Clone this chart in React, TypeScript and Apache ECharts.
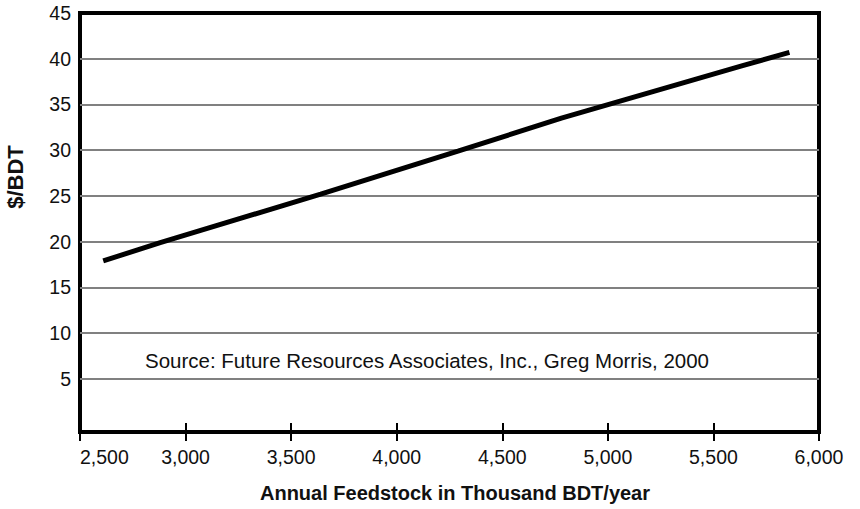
import React, { useEffect, useRef } from "react";
import * as echarts from "echarts";

// Delivered biomass cost versus annual feedstock demand
const feedstock = [2610, 2880, 3640, 4290, 4780, 5630, 5860];
const costPerBdt = [17.9, 19.9, 25.2, 29.9, 33.5, 39.2, 40.7];

// Axis settings
const xMin = 2500;
const xMax = 6000;
const xStep = 500;
const yMin = -0.8;
const yMax = 45;
const yTickLabels = [5, 10, 15, 20, 25, 30, 35, 40, 45];
const gridValues = [5, 10, 15, 20, 25, 30, 35, 40];

const xTitle = "Annual Feedstock in Thousand BDT/year";
const yTitle = "$/BDT";
const sourceNote = "Source: Future Resources Associates, Inc., Greg Morris, 2000";

const FONT = "'Liberation Sans', Arial, Helvetica, sans-serif";

export default function App() {
  const ref = useRef<HTMLDivElement>(null);

  useEffect(() => {
    if (!ref.current) return;
    const chart = echarts.init(ref.current, undefined, { renderer: "svg" });

    const fmt = (v: number) => v.toLocaleString("en-US");

    chart.setOption({
      animation: false,
      backgroundColor: "#ffffff",
      textStyle: { fontFamily: FONT },
      grid: {
        left: 80,
        right: 41,
        top: 13,
        bottom: 77,
        show: true,
        borderColor: "#000",
        borderWidth: 4,
        backgroundColor: "transparent",
      },
      xAxis: [
        {
          type: "value",
          min: xMin,
          max: xMax,
          interval: xStep,
          position: "bottom",
          axisLine: { show: true, onZero: false, lineStyle: { color: "#000", width: 4 } },
          axisTick: { show: true, length: 9, lineStyle: { color: "#000", width: 2 } },
          axisLabel: {
            color: "#111",
            fontSize: 19.5,
            fontFamily: FONT,
            margin: 15,
            formatter: fmt,
            alignMinLabel: "left",
          },
          splitLine: { show: false },
        },
        {
          // inner half of the crossing tick marks
          type: "value",
          min: xMin,
          max: xMax,
          interval: xStep,
          position: "bottom",
          axisLine: { show: false, onZero: false },
          axisTick: { show: true, inside: true, length: 9, lineStyle: { color: "#000", width: 2 } },
          axisLabel: { show: false },
          splitLine: { show: false },
        },
      ],
      yAxis: {
        type: "value",
        min: yMin,
        max: yMax,
        axisLine: { show: true, lineStyle: { color: "#000", width: 4 } },
        axisTick: { show: false, customValues: yTickLabels },
        axisLabel: {
          color: "#111",
          fontSize: 19.5,
          fontFamily: FONT,
          margin: 9,
          customValues: yTickLabels,
        },
        splitLine: { show: false },
      },
      series: [
        {
          // horizontal gridlines
          type: "line",
          data: [],
          z: 1,
          silent: true,
          markLine: {
            silent: true,
            symbol: "none",
            label: { show: false },
            lineStyle: { color: "#808080", width: 2, type: "solid" },
            data: gridValues.map((v) => ({ yAxis: v })),
          },
        },
        {
          type: "line",
          z: 5,
          data: feedstock.map((x, i) => [x, costPerBdt[i]]),
          showSymbol: false,
          symbol: "none",
          lineStyle: { color: "#000", width: 5, cap: "butt" },
        },
      ],
      graphic: [
        {
          type: "text",
          x: 145,
          y: 360,
          style: {
            text: sourceNote,
            font: `20.5px ${FONT}`,
            fill: "#111",
            align: "left",
            verticalAlign: "middle",
          },
        },
        {
          type: "text",
          x: 455,
          y: 493,
          style: {
            text: xTitle,
            font: `bold 20px ${FONT}`,
            fill: "#111",
            align: "center",
            verticalAlign: "middle",
          },
        },
        {
          type: "text",
          x: 15,
          y: 177,
          rotation: Math.PI / 2,
          style: {
            text: yTitle,
            font: `bold 22px ${FONT}`,
            fill: "#111",
            align: "center",
            verticalAlign: "middle",
          },
        },
      ],
    });

    return () => chart.dispose();
  }, []);

  return (
    <div
      ref={ref}
      style={{ position: "fixed", left: 0, top: 0, width: 860, height: 509, background: "#fff" }}
    />
  );
}
